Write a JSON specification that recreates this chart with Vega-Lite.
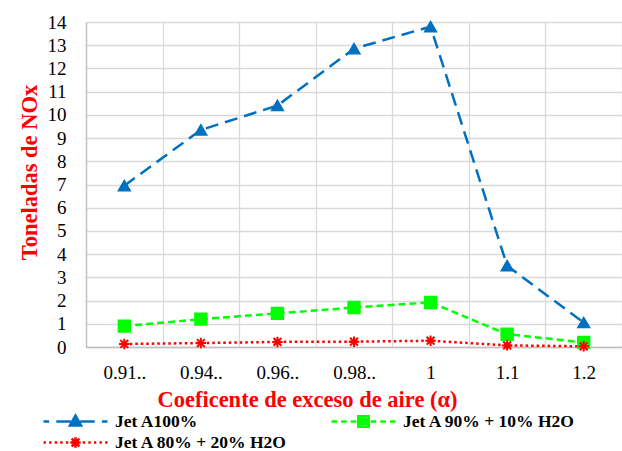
{
  "$schema": "https://vega.github.io/schema/vega-lite/v6.json",
  "autosize": {"type": "none"},
  "padding": {"left": 86, "top": 22, "right": 0, "bottom": 104},
  "width": 536,
  "height": 325,
  "background": "white",
  "config": {
    "view": {"stroke": null},
    "font": "Liberation Serif",
    "legend": {
      "orient": "none",
      "title": null,
      "labelFont": "Liberation Serif",
      "labelFontSize": 17.5,
      "labelFontWeight": "bold",
      "labelColor": "#000000",
      "labelOffset": 30,
      "labelLimit": 400,
      "symbolSize": 256,
      "symbolStrokeWidth": 2.5,
      "symbolOffset": 24,
      "symbolOpacity": 1
    }
  },
  "data": {
    "values": [
      {"alpha": "0.91..", "serie": "Jet A100%", "nox": 6.95},
      {"alpha": "0.94..", "serie": "Jet A100%", "nox": 9.35},
      {"alpha": "0.96..", "serie": "Jet A100%", "nox": 10.4},
      {"alpha": "0.98..", "serie": "Jet A100%", "nox": 12.85},
      {"alpha": "1", "serie": "Jet A100%", "nox": 13.8},
      {"alpha": "1.1", "serie": "Jet A100%", "nox": 3.5},
      {"alpha": "1.2", "serie": "Jet A100%", "nox": 1.05},
      {"alpha": "0.91..", "serie": "Jet A 90% + 10% H2O", "nox": 0.9},
      {"alpha": "0.94..", "serie": "Jet A 90% + 10% H2O", "nox": 1.2},
      {"alpha": "0.96..", "serie": "Jet A 90% + 10% H2O", "nox": 1.45},
      {"alpha": "0.98..", "serie": "Jet A 90% + 10% H2O", "nox": 1.7},
      {"alpha": "1", "serie": "Jet A 90% + 10% H2O", "nox": 1.92},
      {"alpha": "1.1", "serie": "Jet A 90% + 10% H2O", "nox": 0.55},
      {"alpha": "1.2", "serie": "Jet A 90% + 10% H2O", "nox": 0.2},
      {"alpha": "0.91..", "serie": "Jet A 80% + 20% H2O", "nox": 0.13},
      {"alpha": "0.94..", "serie": "Jet A 80% + 20% H2O", "nox": 0.17},
      {"alpha": "0.96..", "serie": "Jet A 80% + 20% H2O", "nox": 0.22},
      {"alpha": "0.98..", "serie": "Jet A 80% + 20% H2O", "nox": 0.23},
      {"alpha": "1", "serie": "Jet A 80% + 20% H2O", "nox": 0.27},
      {"alpha": "1.1", "serie": "Jet A 80% + 20% H2O", "nox": 0.07},
      {"alpha": "1.2", "serie": "Jet A 80% + 20% H2O", "nox": 0.03}
    ]
  },
  "encoding": {
    "x": {
      "field": "alpha",
      "type": "nominal",
      "sort": null,
      "bandPosition": 0.5,
      "scale": {"type": "band", "paddingInner": 0, "paddingOuter": 0},
      "axis": {
        "title": "Coeficente de exceso de aire (α)",
        "titleColor": "#ff0000",
        "titleFont": "Liberation Serif",
        "titleFontSize": 22.5,
        "titleFontWeight": "bold",
        "titleX": 221,
        "titleY": 52,
        "titleBaseline": "middle",
        "tickBand": "extent",
        "labelAngle": 0,
        "labelFont": "Liberation Serif",
        "labelFontSize": 19,
        "labelColor": "#000000",
        "labelPadding": 16,
        "ticks": false,
        "grid": true,
        "gridColor": "#d9d9d9",
        "gridWidth": 1.3,
        "domainColor": "#bfbfbf",
        "domainWidth": 1.3
      }
    },
    "y": {
      "field": "nox",
      "type": "quantitative",
      "scale": {"domain": [0, 14], "nice": false},
      "axis": {
        "title": "Toneladas de NOx",
        "titleColor": "#ff0000",
        "titleFont": "Liberation Serif",
        "titleFontSize": 22.5,
        "titleFontWeight": "bold",
        "titlePadding": 6,
        "titleY": 150,
        "values": [0, 1, 2, 3, 4, 5, 6, 7, 8, 9, 10, 11, 12, 13, 14],
        "labelFont": "Liberation Serif",
        "labelFontSize": 19,
        "labelColor": "#000000",
        "labelPadding": 20,
        "ticks": false,
        "grid": true,
        "gridColor": "#d9d9d9",
        "gridWidth": 1.3,
        "domainColor": "#bfbfbf",
        "domainWidth": 1.3
      }
    }
  },
  "resolve": {"scale": {"shape": "independent", "color": "independent", "strokeDash": "independent"}},
  "layer": [
    {
      "mark": {"type": "line", "strokeWidth": 2.5},
      "encoding": {
        "color": {
          "field": "serie",
          "type": "nominal",
          "scale": {
            "domain": ["Jet A100%", "Jet A 90% + 10% H2O", "Jet A 80% + 20% H2O"],
            "range": ["#0070c0", "#00ff00", "#ff0000"]
          },
          "legend": null
        },
        "strokeDash": {
          "field": "serie",
          "type": "nominal",
          "scale": {
            "domain": ["Jet A100%", "Jet A 90% + 10% H2O", "Jet A 80% + 20% H2O"],
            "range": [[13, 7], [7, 4], [2.5, 3]]
          },
          "legend": null
        }
      }
    },
    {
      "mark": {"type": "point", "filled": true, "opacity": 1, "strokeWidth": 2},
      "encoding": {
        "color": {
          "field": "serie",
          "type": "nominal",
          "scale": {
            "domain": ["Jet A100%", "Jet A 90% + 10% H2O", "Jet A 80% + 20% H2O"],
            "range": ["#0070c0", "#00ff00", "#ff0000"]
          },
          "legend": null
        },
        "stroke": {
          "field": "serie",
          "type": "nominal",
          "scale": {
            "domain": ["Jet A100%", "Jet A 90% + 10% H2O", "Jet A 80% + 20% H2O"],
            "range": ["#0070c0", "#00ff00", "#ff0000"]
          },
          "legend": null
        },
        "shape": {
          "field": "serie",
          "type": "nominal",
          "scale": {
            "domain": ["Jet A100%", "Jet A 90% + 10% H2O", "Jet A 80% + 20% H2O"],
            "range": ["triangle-up", "square", "M-1,0H1M0,-1V1M-0.75,-0.75L0.75,0.75M-0.75,0.75L0.75,-0.75"]
          },
          "legend": null
        },
        "size": {
          "field": "serie",
          "type": "nominal",
          "scale": {
            "type": "ordinal",
            "domain": ["Jet A100%", "Jet A 90% + 10% H2O", "Jet A 80% + 20% H2O"],
            "range": [120, 130, 110]
          },
          "legend": null
        }
      }
    },
    {
      "transform": [{"filter": "datum.nox < 0"}],
      "mark": {"type": "point", "filled": false, "color": "#0070c0", "strokeWidth": 2.5, "opacity": 1},
      "encoding": {
        "shape": {
          "field": "serie",
          "type": "nominal",
          "scale": {
            "domain": ["Jet A100%"],
            "range": ["M-4,0H-3.3M-2.4,0H-0.6M0.6,0H2.4M3.3,0H4M0,-0.75L0.7,0.5L-0.7,0.5ZM-0.2,-0.3H0.2M-0.38,0H0.38M-0.55,0.3H0.55"]
          },
          "legend": {
            "legendX": -44,
            "legendY": 390
          }
        }
      }
    },
    {
      "transform": [{"filter": "datum.nox < 0"}],
      "mark": {"type": "point", "filled": false, "color": "#00ff00", "strokeWidth": 2.5, "opacity": 1},
      "encoding": {
        "shape": {
          "field": "serie",
          "type": "nominal",
          "scale": {
            "domain": ["Jet A 90% + 10% H2O"],
            "range": ["M-4,0H-3.3M-2.8,0H-2.1M-1.6,0H-0.9M0.9,0H1.6M2.1,0H2.8M3.3,0H4M-0.65,-0.65H0.65V0.65H-0.65ZM-0.65,-0.3H0.65M-0.65,0H0.65M-0.65,0.3H0.65"]
          },
          "legend": {
            "legendX": 244,
            "legendY": 390
          }
        }
      }
    },
    {
      "transform": [{"filter": "datum.nox < 0"}],
      "mark": {"type": "point", "filled": false, "color": "#ff0000", "strokeWidth": 2.5, "opacity": 1},
      "encoding": {
        "shape": {
          "field": "serie",
          "type": "nominal",
          "scale": {
            "domain": ["Jet A 80% + 20% H2O"],
            "range": ["M-4,0H-3.7M-3.3,0H-3M-2.6,0H-2.3M-1.9,0H-1.6M-1.2,0H-0.9M0.9,0H1.2M1.6,0H1.9M2.3,0H2.6M3,0H3.3M3.7,0H4M-0.65,0H0.65M0,-0.65V0.65M-0.48,-0.48L0.48,0.48M-0.48,0.48L0.48,-0.48"]
          },
          "legend": {
            "legendX": -44,
            "legendY": 411
          }
        }
      }
    }
  ]
}
